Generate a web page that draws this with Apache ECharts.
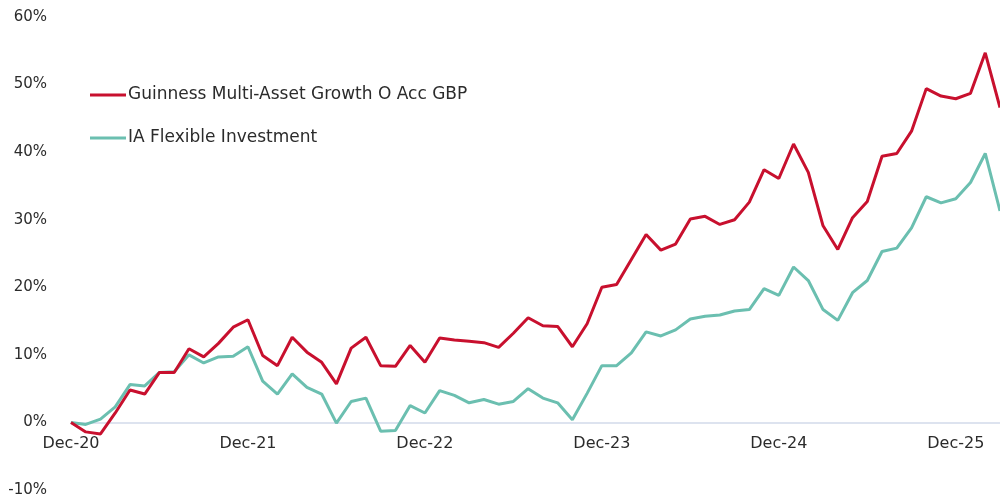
<!DOCTYPE html>
<html>
<head>
<meta charset="utf-8">
<script src="https://cdn.jsdelivr.net/npm/echarts@6/dist/echarts.min.js"></script>
<style>
  html, body { margin: 0; padding: 0; background: #fff; }
  #chart { width: 1000px; height: 502px; }
</style>
</head>
<body>
<div id="chart"></div>
<script>
// month-end labels, Dec-20 .. Mar-26
const months = [
  "Dec-20",
  "Jan-21", "Feb-21", "Mar-21", "Apr-21", "May-21", "Jun-21", "Jul-21", "Aug-21", "Sep-21", "Oct-21", "Nov-21", "Dec-21",
  "Jan-22", "Feb-22", "Mar-22", "Apr-22", "May-22", "Jun-22", "Jul-22", "Aug-22", "Sep-22", "Oct-22", "Nov-22", "Dec-22",
  "Jan-23", "Feb-23", "Mar-23", "Apr-23", "May-23", "Jun-23", "Jul-23", "Aug-23", "Sep-23", "Oct-23", "Nov-23", "Dec-23",
  "Jan-24", "Feb-24", "Mar-24", "Apr-24", "May-24", "Jun-24", "Jul-24", "Aug-24", "Sep-24", "Oct-24", "Nov-24", "Dec-24",
  "Jan-25", "Feb-25", "Mar-25", "Apr-25", "May-25", "Jun-25", "Jul-25", "Aug-25", "Sep-25", "Oct-25", "Nov-25", "Dec-25",
  "Jan-26", "Feb-26", "Mar-26",
];

// cumulative return, %
const guinness = [
  0, -1.4, -1.7, 1.4, 4.8, 4.2, 7.4, 7.4, 10.9, 9.7, 11.7, 14.1, 15.2,
  9.9, 8.4, 12.6, 10.4, 8.9, 5.7, 11.0, 12.6, 8.4, 8.3, 11.4, 8.9,
  12.5, 12.2, 12.0, 11.8, 11.1, 13.2, 15.5, 14.3, 14.2, 11.2, 14.6, 20.0,
  20.4, 24.1, 27.8, 25.5, 26.4, 30.1, 30.5, 29.3, 30.0, 32.6, 37.4, 36.1,
  41.2, 37.0, 29.1, 25.6, 30.3, 32.7, 39.4, 39.8, 43.1, 49.4, 48.3, 47.9,
  48.7, 54.7, 46.6,
];

const iaFlexible = [
  0, -0.3, 0.5, 2.3, 5.6, 5.4, 7.4, 7.5, 10.0, 8.8, 9.7, 9.8, 11.2,
  6.1, 4.2, 7.2, 5.2, 4.2, -0.1, 3.1, 3.6, -1.3, -1.2, 2.5, 1.4,
  4.7, 4.0, 2.9, 3.4, 2.7, 3.1, 5.0, 3.6, 2.9, 0.4, 4.3, 8.4,
  8.4, 10.3, 13.4, 12.8, 13.7, 15.3, 15.7, 15.9, 16.5, 16.7, 19.8, 18.8,
  23.0, 21.0, 16.7, 15.1, 19.2, 21.0, 25.3, 25.8, 28.8, 33.4, 32.5, 33.1,
  35.5, 39.8, 31.3,
];

const seriesNames = ["Guinness Multi-Asset Growth O Acc GBP", "IA Flexible Investment"];
const colors = ["#c8102e", "#6bbfb0"];

const FONT = "'DejaVu Sans', sans-serif";
const TEXT = "#2b2b2b";

const Y_MIN = -10, Y_MAX = 60;
const GRID_TOP = 17, GRID_BOTTOM = 12;
// lift the category axis from the grid bottom up to the 0% line
const zeroLift = (502 - GRID_TOP - GRID_BOTTOM) * (0 - Y_MIN) / (Y_MAX - Y_MIN);

const chart = echarts.init(document.getElementById("chart"), null, { renderer: "canvas" });

chart.setOption({
  animation: false,
  color: colors,
  textStyle: { fontFamily: FONT },
  grid: { left: 71, right: 0, top: GRID_TOP, bottom: GRID_BOTTOM, containLabel: false, outerBoundsMode: "none" },
  legend: {
    orient: "vertical",
    left: 90,
    top: 86,
    padding: 0,
    itemGap: 25,
    itemWidth: 36,
    itemHeight: 3,
    icon: "rect",
    textStyle: { fontFamily: FONT, fontSize: 17, color: TEXT, lineHeight: 18, padding: [0, 0, 0, -3] },
    data: seriesNames,
  },
  xAxis: {
    type: "category",
    data: months,
    boundaryGap: false,
    position: "bottom",
    offset: -zeroLift,
    axisLine: { onZero: false, lineStyle: { color: "#dde3ef", width: 2 } },
    axisTick: { show: false },
    axisLabel: { interval: 11, color: TEXT, fontSize: 16, fontFamily: FONT, margin: 13 },
    splitLine: { show: false },
  },
  yAxis: {
    type: "value",
    min: Y_MIN,
    max: Y_MAX,
    interval: 10,
    axisLine: { show: false },
    axisTick: { show: false },
    splitLine: { show: false },
    axisLabel: { color: TEXT, fontSize: 15, fontFamily: FONT, margin: 24, formatter: "{value}%" },
  },
  series: [
    {
      name: seriesNames[0],
      type: "line",
      data: guinness,
      symbol: "none",
      lineStyle: { width: 3, color: colors[0] },
      z: 3,
    },
    {
      name: seriesNames[1],
      type: "line",
      data: iaFlexible,
      symbol: "none",
      lineStyle: { width: 3, color: colors[1] },
      z: 2,
    },
  ],
});
</script>
</body>
</html>
